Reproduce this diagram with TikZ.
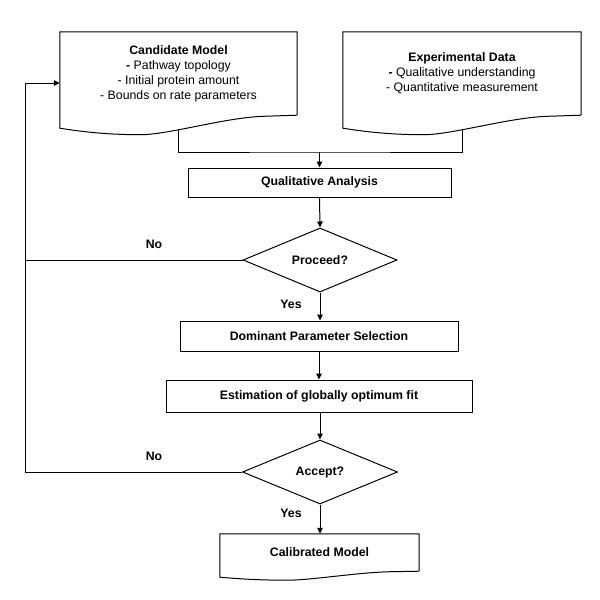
\documentclass[tikz,border=0pt]{standalone}
\usepackage{fontspec}
\setmainfont{Liberation Sans}
\usetikzlibrary{shapes.geometric,arrows.meta,calc}
\newcommand\basefont{\fontsize{12.3}{15}\selectfont}
\tikzset{
  ln/.style={line width=1pt,black},
  arr/.style={ln,-{Triangle[length=6pt,width=5.5pt]}},
  procbox/.style={draw,ln,rectangle,inner sep=0pt,font=\basefont\bfseries},
  docbox/.style={rectangle,inner sep=0pt,align=center},
  dec/.style={draw,ln,diamond,inner sep=0pt,aspect=2.4,font=\basefont\bfseries},
  lbl/.style={font=\basefont\bfseries,inner sep=0pt},
}
\newcommand\docwave[2]{%
  \draw[ln] (#1.south east) -- (#1.north east) -- (#1.north west) -- ($(#1.south west)+(0,#2)$)
    .. controls ($(#1.south west)!0.12!(#1.south east)+(0,1.35*#2)$) and ($(#1.south west)!0.22!(#1.south east)+(0,1.5*#2)$) .. ($(#1.south west)!0.34!(#1.south east)+(0,1.5*#2)$)
    .. controls ($(#1.south west)!0.46!(#1.south east)+(0,1.5*#2)$) and ($(#1.south west)!0.70!(#1.south east)+(0,0.15*#2)$) .. coordinate[pos=0.35] (#1w) ($(#1.south west)!0.865!(#1.south east)+(0,0.08*#2)$)
    -- (#1.south east);
}
\begin{document}
\begin{tikzpicture}[x=1pt,y=-1pt,font=\basefont]
\useasboundingbox (0,0) rectangle (600,600);
% document shapes
\node[docbox,minimum width=237pt,minimum height=83pt] (cand) at (178.5,73.5)
  {\textbf{Candidate Model}\\\textbf{-} Pathway topology\\- Initial protein amount\\- Bounds on rate parameters};
\node[docbox,minimum width=238pt,minimum height=83pt] (exp) at (462,73.5)
  {\textbf{Experimental Data}\\\textbf{-} Qualitative understanding\\- Quantitative measurement};
\docwave{cand}{13}
\docwave{exp}{13}
% process boxes
\node[procbox,minimum width=263pt,minimum height=29pt] (qa) at (319.5,182.5) {Qualitative Analysis};
\node[dec,minimum width=154pt,minimum height=64pt] (proc) at (320,260) {Proceed?};
\node[procbox,minimum width=278pt,minimum height=30pt] (dom) at (319,336) {Dominant Parameter Selection};
\node[procbox,minimum width=306pt,minimum height=32pt] (est) at (319,396) {Estimation of globally optimum fit};
\node[dec,minimum width=155pt,minimum height=64pt] (acc) at (320,472) {Accept?};
\node[docbox,font=\basefont\bfseries,minimum width=199pt,minimum height=37pt] (cal) at (319.5,552.5) {Calibrated Model};
\docwave{cal}{6}
% labels
\node[lbl] (no1) at (154,244) {No};
\node[lbl] (no2) at (154,456) {No};
\node[lbl] (yes1) at (291,304) {Yes};
\node[lbl] (yes2) at (291,513) {Yes};
% connectors
\coordinate (j) at (319.5,152);
\coordinate (fb) at (25,83);
\draw[ln] (candw) |- (j) -| (expw);
\draw[arr] (j) -- (qa.north);
\draw[arr] (qa.south) -- (proc.north);
\draw[arr] (proc.south) -- (proc.south |- dom.north);
\draw[arr] (dom.south) -- (dom.south |- est.north);
\draw[arr] (est.south) -- (est.south -| acc.north) -- (acc.north);
\draw[arr] (acc.south) -- (acc.south |- cal.north);
\draw[ln] (proc.west) -- (proc.west -| fb);
\draw[ln] (acc.west) -| (fb);
\draw[arr] (fb) -- (cand.west |- fb);
\end{tikzpicture}
\end{document}
